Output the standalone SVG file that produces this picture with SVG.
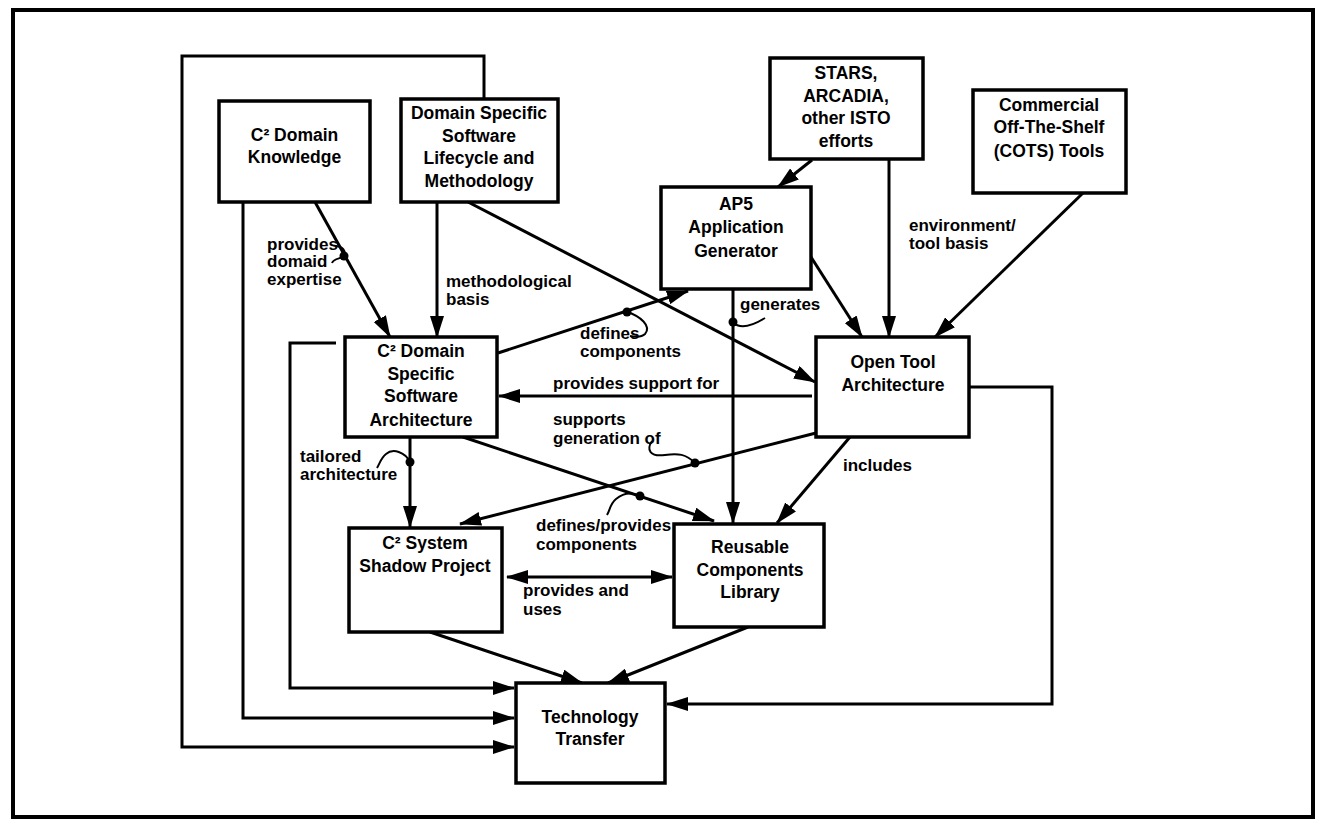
<svg xmlns="http://www.w3.org/2000/svg" width="1325" height="827" viewBox="0 0 1325 827">
<style>
.box{fill:#fff;stroke:#000;stroke-width:3.5}
.nt{font-family:"Liberation Sans",Arial,sans-serif;font-weight:bold;font-size:17.5px;text-anchor:middle;fill:#000}
.lb{font-family:"Liberation Sans",Arial,sans-serif;font-weight:bold;font-size:17px;fill:#000}
.ln{fill:none;stroke:#000;stroke-width:3}
.arr{fill:none;stroke:#000;stroke-width:3;marker-end:url(#ah)}
.curl{fill:none;stroke:#000;stroke-width:2}
</style>
<defs>
<marker id="ah" markerUnits="userSpaceOnUse" markerWidth="22" markerHeight="14" refX="21" refY="7" orient="auto-start-reverse">
<path d="M0,0 L22,7 L0,14 z" fill="#000"/>
</marker>
</defs>
<rect x="0" y="0" width="1325" height="827" fill="#fff"/>
<rect x="13" y="10" width="1300" height="807" fill="none" stroke="#000" stroke-width="4"/>

<g id="connectors">
<!-- loops to Technology Transfer -->
<polyline class="arr" points="484,99 484,56 182,56 182,747 514,747"/>
<polyline class="arr" points="243,202 243,718 514,718"/>
<polyline class="arr" points="336,343 290,343 290,688 514,688"/>
<polyline class="arr" points="969,387 1052,387 1052,704 667,704"/>
<!-- into C2 DSSA -->
<line class="arr" x1="315" y1="202" x2="390" y2="337"/>
<line class="arr" x1="437" y1="202" x2="437" y2="337"/>
<!-- DSSLM to OTA -->
<line class="arr" x1="468" y1="202" x2="815" y2="382"/>
<!-- STARS -->
<line class="arr" x1="812" y1="160" x2="778" y2="187"/>
<line class="arr" x1="889" y1="159" x2="889" y2="337"/>
<!-- COTS -->
<line class="arr" x1="1083" y1="193" x2="935" y2="337"/>
<!-- APS -->
<line class="arr" x1="811" y1="257" x2="862" y2="337"/>
<line class="arr" x1="733" y1="289" x2="733" y2="523"/>
<!-- C2DSSA to APS -->
<line class="arr" x1="498" y1="353" x2="688" y2="291"/>
<!-- OTA to C2DSSA -->
<line class="arr" x1="812" y1="396" x2="499" y2="396"/>
<!-- C2DSSA to C2SSP -->
<line class="arr" x1="410" y1="437" x2="410" y2="527"/>
<!-- C2DSSA to RCL -->
<line class="arr" x1="463" y1="437" x2="714" y2="521"/>
<!-- OTA to C2SSP -->
<line class="arr" x1="816" y1="433" x2="460" y2="524"/>
<!-- OTA to RCL -->
<line class="arr" x1="850" y1="437" x2="777" y2="523"/>
<!-- provides and uses -->
<line class="arr" x1="507" y1="577" x2="672" y2="577" style="marker-start:url(#ah)"/>
<!-- to TT -->
<line class="arr" x1="430" y1="632" x2="582" y2="683"/>
<line class="arr" x1="748" y1="627" x2="608" y2="683"/>
<!-- dots and curls -->
<circle cx="344" cy="256" r="4.5"/>
<path class="curl" d="M335,246 C343,246 346,251 344,256 C341,259 334,258 332,263"/>
<circle cx="410" cy="462" r="4.5"/>
<path class="curl" d="M410,462 C405,452 393,448 386,454 C381,458 380,463 377,468"/>
<circle cx="627" cy="312" r="4.5"/>
<path class="curl" d="M627,312 C640,316 652,326 645,334 C641,338 635,337 630,336"/>
<circle cx="733" cy="322" r="4.5"/>
<path class="curl" d="M733,322 C740,330 752,326 765,318"/>
<circle cx="695" cy="463" r="4.5"/>
<path class="curl" d="M652,441 C646,450 650,457 665,455 C678,453 686,454 695,463"/>
<circle cx="640" cy="496" r="4.5"/>
<path class="curl" d="M640,496 C630,491 622,494 616,499 C610,504 610,510 607,515"/>
</g>

<g id="labels">
<text class="lb" x="267" y="250">provides</text>
<text class="lb" x="267" y="267">domaid</text>
<text class="lb" x="267" y="285">expertise</text>
<text class="lb" x="446" y="287">methodological</text>
<text class="lb" x="446" y="305">basis</text>
<text class="lb" x="909" y="231">environment/</text>
<text class="lb" x="909" y="249">tool basis</text>
<text class="lb" x="740" y="310">generates</text>
<text class="lb" x="580" y="339">defines</text>
<text class="lb" x="580" y="357">components</text>
<text class="lb" x="553" y="389">provides support for</text>
<text class="lb" x="553" y="425">supports</text>
<text class="lb" x="553" y="444">generation of</text>
<text class="lb" x="300" y="462">tailored</text>
<text class="lb" x="300" y="480">architecture</text>
<text class="lb" x="843" y="471">includes</text>
<text class="lb" x="536" y="531">defines/provides</text>
<text class="lb" x="536" y="550">components</text>
<text class="lb" x="523" y="596">provides and</text>
<text class="lb" x="523" y="615">uses</text>
</g>

<g id="c2-domain-knowledge">
<rect class="box" x="219" y="101" width="151" height="101"/>
<text class="nt" x="294.5" y="141">C² Domain</text>
<text class="nt" x="294.5" y="163">Knowledge</text>
</g>
<g id="dssl-methodology">
<rect class="box" x="401" y="99" width="157" height="103"/>
<text class="nt" x="479" y="119">Domain Specific</text>
<text class="nt" x="479" y="142">Software</text>
<text class="nt" x="479" y="164">Lifecycle and</text>
<text class="nt" x="479" y="187">Methodology</text>
</g>
<g id="stars">
<rect class="box" x="770" y="58" width="153" height="101"/>
<text class="nt" x="846" y="79">STARS,</text>
<text class="nt" x="846" y="102">ARCADIA,</text>
<text class="nt" x="846" y="124">other ISTO</text>
<text class="nt" x="846" y="147">efforts</text>
</g>
<g id="cots">
<rect class="box" x="973" y="90" width="153" height="103"/>
<text class="nt" x="1049" y="111">Commercial</text>
<text class="nt" x="1049" y="133">Off-The-Shelf</text>
<text class="nt" x="1049" y="157">(COTS) Tools</text>
</g>
<g id="aps">
<rect class="box" x="661" y="187" width="150" height="102"/>
<text class="nt" x="736" y="210">AP5</text>
<text class="nt" x="736" y="233">Application</text>
<text class="nt" x="736" y="257">Generator</text>
</g>
<g id="c2-dssa">
<rect class="box" x="345" y="337" width="152" height="100"/>
<text class="nt" x="421" y="357">C² Domain</text>
<text class="nt" x="421" y="380">Specific</text>
<text class="nt" x="421" y="402">Software</text>
<text class="nt" x="421" y="426">Architecture</text>
</g>
<g id="open-tool-architecture">
<rect class="box" x="816" y="337" width="153" height="100"/>
<text class="nt" x="893" y="368">Open Tool</text>
<text class="nt" x="893" y="391">Architecture</text>
</g>
<g id="c2-system-shadow">
<rect class="box" x="349" y="528" width="153" height="104"/>
<text class="nt" x="425" y="549">C² System</text>
<text class="nt" x="425" y="572">Shadow Project</text>
</g>
<g id="reusable-components">
<rect class="box" x="674" y="524" width="150" height="103"/>
<text class="nt" x="750" y="553">Reusable</text>
<text class="nt" x="750" y="576">Components</text>
<text class="nt" x="750" y="598">Library</text>
</g>
<g id="technology-transfer">
<rect class="box" x="516" y="683" width="149" height="100"/>
<text class="nt" x="590" y="723">Technology</text>
<text class="nt" x="590" y="745">Transfer</text>
</g>
</svg>
